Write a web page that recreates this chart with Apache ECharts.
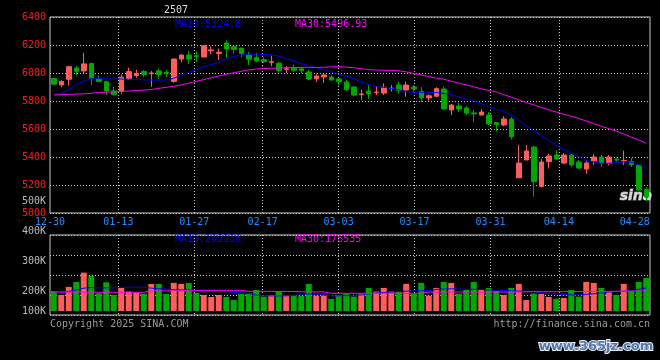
<!DOCTYPE html>
<html><head><meta charset="utf-8">
<script src="https://cdn.jsdelivr.net/npm/echarts@6/dist/echarts.min.js"></script>
<style>html,body{margin:0;padding:0;background:#000}#c{width:660px;height:360px}</style>
</head><body><div id="c"></div>
<script>
// ---- data ----
const title = '2507';
const dates = [
'12-30','12-31','01-02','01-03','01-06','01-07','01-08','01-09','01-10','01-13',
'01-14','01-15','01-16','01-17','01-20','01-21','01-22','01-23','01-24','01-27',
'02-05','02-06','02-07','02-10','02-11','02-12','02-13','02-14','02-17','02-18',
'02-19','02-20','02-21','02-24','02-25','02-26','02-27','02-28','03-03','03-04',
'03-05','03-06','03-07','03-10','03-11','03-12','03-13','03-14','03-17','03-18',
'03-19','03-20','03-21','03-24','03-25','03-26','03-27','03-28','03-31','04-01',
'04-02','04-03','04-07','04-08','04-09','04-10','04-11','04-14','04-15','04-16',
'04-17','04-18','04-21','04-22','04-23','04-24','04-25','04-28','04-29','04-30'];
const xTickLabels = ['12-30','01-13','01-27','02-17','03-03','03-17','03-31','04-14','04-28'];
const xGridDates = ['01-13','01-27','02-17','03-03','03-17','03-31','04-14'];

const opens = [
5960,5915,5955,6035,6015,6068,5960,5938,5872,5870,
5957,5982,6010,5995,6015,6004,5940,6100,6128,6123,
6115,6160,6140,6215,6188,6178,6128,6110,6095,6076,
6070,6026,6036,6030,6007,5958,5972,5971,5958,5936,
5900,5845,5871,5860,5857,5888,5914,5879,5900,5868,
5822,5834,5886,5736,5764,5750,5715,5700,5700,5645,
5629,5671,5252,5379,5471,5190,5367,5414,5357,5414,
5364,5314,5371,5400,5355,5384,5372,5367,5343,5170];
const closes = [
5920,5940,6045,6012,6065,5962,5940,5872,5845,5970,
6010,5995,5990,6000,5988,6000,6100,6128,6100,6120,
6195,6165,6148,6172,6168,6140,6098,6086,6082,6080,
6018,6030,6020,6018,5957,5978,5986,5950,5940,5880,
5843,5850,5850,5864,5898,5892,5875,5914,5886,5822,
5837,5888,5743,5771,5743,5714,5708,5721,5636,5632,
5671,5545,5357,5443,5224,5364,5407,5386,5414,5343,
5321,5357,5400,5357,5400,5378,5375,5345,5164,5114];
const lows = [
5912,5898,5910,5982,6000,5915,5935,5843,5840,5850,
5950,5967,5970,5902,5958,5970,5930,6075,6065,6080,
6110,6136,6093,6110,6140,6112,6057,6078,6070,6050,
6005,6000,6008,6000,5950,5936,5928,5945,5910,5875,
5836,5808,5815,5843,5843,5867,5855,5831,5868,5790,
5803,5826,5736,5700,5721,5700,5650,5698,5628,5582,
5620,5524,5250,5376,5117,5181,5318,5380,5350,5330,
5314,5279,5343,5329,5340,5368,5343,5330,5160,5085];
const highs = [
5965,5948,6048,6050,6145,6072,5985,5945,5900,5990,
6038,6022,6022,6015,6032,6020,6102,6135,6158,6155,
6200,6190,6175,6235,6190,6180,6150,6145,6110,6125,
6080,6050,6060,6042,6022,5993,5993,5985,5962,5950,
5907,5880,5915,5907,5926,5914,5938,5940,5915,5898,
5848,5898,5902,5779,5786,5764,5736,5743,5722,5650,
5690,5686,5486,5486,5479,5386,5421,5450,5429,5421,
5379,5371,5421,5414,5414,5395,5445,5393,5345,5185];
const priceMA10 = [
5848,5855,5880,5915,5942,5960,5960,5958,5957,5957,
5956,5954,5951,5950,5950,5950,5962,5985,6005,6025,
6045,6060,6075,6100,6118,6130,6133,6134,6133,6130,
6120,6105,6085,6068,6050,6038,6025,6010,5990,5975,
5960,5935,5918,5903,5897,5890,5879,5866,5862,5862,
5862,5861,5855,5846,5830,5812,5800,5780,5757,5740,
5725,5700,5665,5622,5588,5552,5517,5485,5455,5428,
5402,5376,5364,5356,5355,5360,5365,5362,5345,5325];
const priceMA30 = [
5843,5845,5847,5849,5851,5855,5860,5862,5865,5868,
5871,5875,5878,5882,5890,5898,5905,5915,5928,5940,
5953,5966,5978,5990,6002,6012,6022,6028,6032,6034,
6036,6038,6039,6040,6040,6040,6041,6044,6045,6042,
6038,6030,6025,6021,6019,6019,6016,6008,5997,5986,
5975,5963,5955,5942,5928,5915,5902,5887,5875,5865,
5845,5828,5808,5790,5772,5754,5738,5722,5706,5692,
5675,5657,5638,5620,5603,5585,5565,5542,5522,5497];
// volume in thousands
const volumes = [
175,140,211,254,336,307,155,251,140,202,
170,161,152,237,237,149,246,237,246,158,
140,123,140,123,96,149,158,184,126,140,
175,134,134,134,237,134,134,105,140,149,
126,149,202,170,202,170,170,237,149,246,
134,202,254,246,152,184,254,184,202,175,
140,202,237,96,152,149,123,108,114,184,
126,254,246,202,167,140,237,175,254,289];
const volMA10 = [
168,166,172,184,200,205,203,202,203,207,
208,208,208,200,194,192,186,185,184,182,
179,178,177,170,163,158,152,140,134,132,
132,133,135,146,149,148,142,133,132,135,
138,140,150,158,162,165,170,174,176,177,
180,188,193,194,192,190,190,189,184,182,
180,178,174,172,168,160,152,149,145,141,
140,146,150,158,166,170,174,178,190,202];
const volMA30 = [
166,166,166,166,165,164,164,164,164,164,
164,164,164,176,176,176,176,176,181,181,
181,181,181,181,181,181,172,172,172,172,
171,171,170,169,168,167,167,155,155,155,
155,155,155,155,155,155,155,155,155,155,
166,166,166,166,166,166,166,166,166,166,
166,166,166,169,169,169,169,169,169,170,
170,171,171,172,172,173,173,174,175,176.5];
const priceTicks = {min: 5000, max: 6400, step: 200};
const volAxis = {min: -35, max: 665, step: 175};
const volTickLabels = ['400K','300K','200K','100K'];
const priceExtraLabel = '500K';
const legendPrice = ['MA10:5324.8', 'MA30:5496.93'];
const legendVol = ['MA10:202338', 'MA30:176535'];
const footerLeft = 'Copyright 2025 SINA.COM';
const footerRight = 'http://finance.sina.com.cn';
const watermark = 'www.365jz.com';

// ---- styles ----
const RED = '#ff5c5c', GREEN = '#00a800';
const FRAME = '#c8c8c8';
const MONO = '"DejaVu Sans Mono", monospace';
const dotted = {color: '#c8c8c8', width: 1, type: [1, 2]};

const candles = opens.map((o, i) => [o, closes[i], lows[i], highs[i]]);
const volData = volumes.map((v, i) => ({
  value: v,
  itemStyle: {color: closes[i] >= opens[i] ? RED : GREEN}
}));

const chart = echarts.init(document.getElementById('c'), null, {renderer: 'canvas'});

function catAxisHidden(grid) {
  return {type: 'category', gridIndex: grid, data: dates, boundaryGap: true, show: false};
}
function labelAxis(grid, withLabels) {
  return {
    type: 'category', gridIndex: grid, data: dates, boundaryGap: false, position: 'bottom',
    axisLine: {show: false}, axisTick: {show: false},
    axisLabel: {
      show: withLabels, color: '#1e8fff', fontFamily: MONO, fontSize: 10, margin: 4,
      interval: (idx, val) => xTickLabels.indexOf(val) >= 0
    },
    splitLine: {show: true, lineStyle: dotted, interval: (idx, val) => xGridDates.indexOf(val) >= 0}
  };
}

const txt = (text, x, y, fill, align, extra) => Object.assign({
  type: 'text', x: x, y: y, silent: true,
  style: Object.assign({text: text, fill: fill, font: '10px ' + MONO, textAlign: align || 'left', textVerticalAlign: 'middle'}, extra || {})
});

chart.setOption({
  animation: false,
  backgroundColor: '#000',
  grid: [
    {left: 50, right: 10, top: 17, height: 196, show: true, borderColor: FRAME, borderWidth: 1, backgroundColor: 'transparent'},
    {left: 50, right: 10, top: 235, height: 80, show: true, borderColor: FRAME, borderWidth: 1, backgroundColor: 'transparent'}
  ],
  xAxis: [catAxisHidden(0), labelAxis(0, true), catAxisHidden(1), labelAxis(1, false)],
  yAxis: [
    {type: 'value', gridIndex: 0, min: priceTicks.min, max: priceTicks.max, interval: priceTicks.step,
     axisLine: {show: false}, axisTick: {show: false},
     axisLabel: {color: '#ff1a1a', fontFamily: MONO, fontSize: 10, margin: 4, formatter: v => String(v)},
     splitLine: {show: true, lineStyle: dotted}},
    {type: 'value', gridIndex: 1, min: volAxis.min, max: volAxis.max, interval: volAxis.step,
     axisLine: {show: false}, axisTick: {show: false}, axisLabel: {show: false},
     splitLine: {show: true, lineStyle: dotted}}
  ],
  series: [
    {type: 'candlestick', xAxisIndex: 0, yAxisIndex: 0, data: candles, barWidth: 5,
     itemStyle: {color: RED, color0: GREEN, borderColor: RED, borderColor0: GREEN, borderWidth: 1}},
    {type: 'line', xAxisIndex: 0, yAxisIndex: 0, data: priceMA10, symbol: 'none',
     lineStyle: {color: '#0000ff', width: 1}},
    {type: 'line', xAxisIndex: 0, yAxisIndex: 0, data: priceMA30, symbol: 'none',
     lineStyle: {color: '#ff00ff', width: 1}},
    {type: 'bar', xAxisIndex: 2, yAxisIndex: 1, data: volData, barWidth: 6},
    {type: 'line', xAxisIndex: 2, yAxisIndex: 1, data: volMA10, symbol: 'none',
     lineStyle: {color: '#0000ff', width: 1}},
    {type: 'line', xAxisIndex: 2, yAxisIndex: 1, data: volMA30, symbol: 'none',
     lineStyle: {color: '#ff00ff', width: 1}}
  ],
  graphic: [
    txt(title, 176, 10, '#dddddd', 'center'),
    txt(legendPrice[0], 175, 24, '#0000ff'),
    txt(legendPrice[1], 295, 24, '#ff00ff'),
    txt(legendVol[0], 175, 239, '#0000ff'),
    txt(legendVol[1], 295, 239, '#ff00ff'),
    txt(priceExtraLabel, 46, 201, '#bbbbbb', 'right'),
    txt(volTickLabels[0], 46, 231, '#bbbbbb', 'right'),
    txt(volTickLabels[1], 46, 261, '#bbbbbb', 'right'),
    txt(volTickLabels[2], 46, 291, '#bbbbbb', 'right'),
    txt(volTickLabels[3], 46, 311, '#bbbbbb', 'right'),
    txt(footerLeft, 50, 324, '#9a9a9a'),
    txt(footerRight, 650, 324, '#9a9a9a', 'right'),
    txt('sina', 636, 196, '#d8d8d8', 'center', {font: 'italic bold 14px "DejaVu Sans"', stroke: '#888', lineWidth: 1}),
    txt(watermark, 596, 347, '#4f78b4', 'center', {font: 'bold 13px "DejaVu Sans"', stroke: '#e8eef8', lineWidth: 2})
  ]
});
</script>
</body></html>
